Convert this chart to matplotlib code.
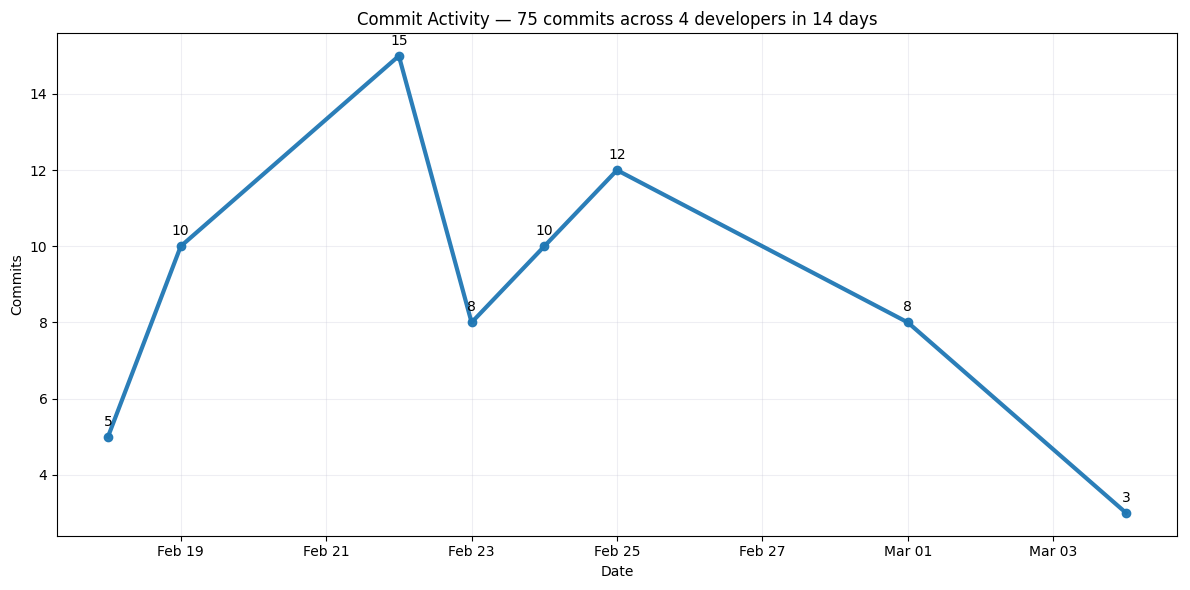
import numpy as np
import pandas as pd
import matplotlib
matplotlib.use("Agg")
import matplotlib.pyplot as plt
import matplotlib.dates as mdates

dates = ["2025-02-18", "2025-02-19", "2025-02-22", "2025-02-23",
         "2025-02-24", "2025-02-25", "2025-03-01", "2025-03-04"]
commits = [5, 10, 15, 8, 10, 12, 8, 3]

x = pd.to_datetime(dates)

fig, ax = plt.subplots(figsize=(11.9, 5.9), dpi=100)
ax.plot(x, commits, marker='o', linewidth=3, markersize=6, color='#1f77b4', alpha=0.95)
for d, c in zip(x, commits):
    ax.annotate(str(c), (d, c), textcoords="offset points", xytext=(0, 8),
                ha='center', fontsize=10)

ax.set_title("Commit Activity \u2014 75 commits across 4 developers in 14 days")
ax.set_xlabel("Date")
ax.set_ylabel("Commits")
ax.grid(True, alpha=0.3, color='#c8c8d8')
ax.xaxis.set_major_locator(mdates.DayLocator(bymonthday=[1, 3, 19, 21, 23, 25, 27]))
ax.xaxis.set_major_formatter(mdates.DateFormatter('%b %d'))

fig.subplots_adjust(left=0.048, right=0.989, top=0.944, bottom=0.092)
plt.savefig("out.png")
